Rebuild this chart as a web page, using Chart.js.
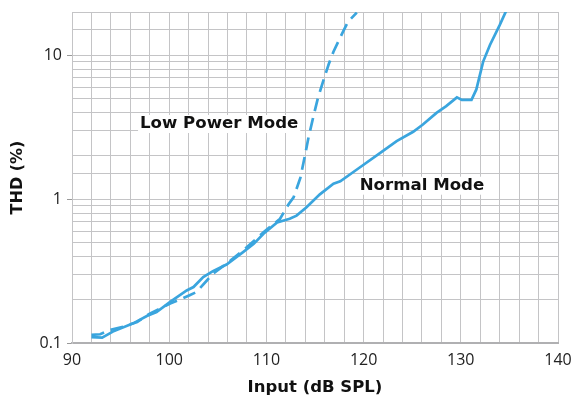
<!DOCTYPE html>
<html>
<head>
<meta charset="utf-8">
<script src="https://cdn.jsdelivr.net/npm/chart.js@4"></script>
<style>
  html, body { margin: 0; padding: 0; background: #fff; }
  #wrap { width: 575px; height: 404px; }
</style>
</head>
<body>
<div id="wrap"><canvas id="thdChart"></canvas></div>
<script>
const normalX = [92.0, 93.1, 94.2, 96.3, 97.7, 98.7, 100.1, 101.8, 102.5, 103.5, 104.5, 105.9, 107.6, 108.7, 109.7, 111.1, 112.4, 113.1, 114.1, 115.5, 116.9, 117.6, 119.6, 121.5, 123.4, 125.1, 126.1, 127.5, 128.5, 129.6, 130.1, 131.1, 131.6, 132.3, 133.0, 134.0, 134.7];
const normalY = [0.110, 0.109, 0.120, 0.137, 0.154, 0.164, 0.193, 0.232, 0.245, 0.287, 0.316, 0.351, 0.428, 0.489, 0.574, 0.689, 0.73, 0.768, 0.876, 1.08, 1.28, 1.33, 1.66, 2.05, 2.53, 2.94, 3.3, 3.98, 4.43, 5.1, 4.9, 4.9, 5.79, 9.04, 11.8, 16.2, 20.6];

const lowPowerX = [92.0, 92.9, 93.9, 95.3, 96.7, 98.0, 100.1, 101.1, 102.1, 102.8, 103.9, 104.5, 106.3, 108.0, 109.7, 111.4, 112.3, 112.8, 113.5, 114.0, 114.3, 114.8, 115.3, 115.9, 116.4, 116.9, 117.8, 118.4, 119.3];
const lowPowerY = [0.114, 0.115, 0.123, 0.130, 0.140, 0.160, 0.188, 0.200, 0.215, 0.226, 0.273, 0.303, 0.374, 0.464, 0.588, 0.730, 0.925, 1.03, 1.41, 2.06, 2.62, 3.67, 5.05, 6.8, 8.63, 10.6, 14.2, 17.1, 19.8];

const xTickLabels = [90, 100, 110, 120, 130, 140];
const yTickLabels = [0.1, 1, 10];

// text labels pinned to data positions (x, y in chart units)
const seriesLabels = [
  { text: 'Low Power Mode', x: 97.0, y: 3.33 },
  { text: 'Normal Mode', x: 119.6, y: 1.24 }
];

const lineBlue = '#3aa5de';
const gridGrey = '#c4c4c6';
const tickFont = '"Open Sans", Lato, sans-serif';
const boldFont = '"DejaVu Sans", sans-serif';

const toPoints = (xs, ys) => xs.map((x, i) => ({ x, y: ys[i] }));

const labelPlugin = {
  id: 'seriesLabels',
  beforeDatasetsDraw(chart) {
    const { ctx, scales } = chart;
    ctx.save();
    ctx.font = 'bold 16.6px ' + boldFont;
    ctx.textBaseline = 'middle';
    ctx.textAlign = 'left';
    seriesLabels.forEach(l => {
      const px = scales.x.getPixelForValue(l.x);
      const py = scales.y.getPixelForValue(l.y);
      const w = ctx.measureText(l.text).width;
      ctx.fillStyle = '#fff';
      ctx.fillRect(px - 2, py - 9, w + 4, 18);
      ctx.fillStyle = '#111';
      ctx.fillText(l.text, px, py);
    });
    ctx.restore();
  }
};

new Chart(document.getElementById('thdChart').getContext('2d'), {
  type: 'line',
  data: {
    datasets: [
      {
        label: 'Normal Mode',
        data: toPoints(normalX, normalY),
        borderColor: lineBlue,
        borderWidth: 2.7,
        pointRadius: 0,
        tension: 0
      },
      {
        label: 'Low Power Mode',
        data: toPoints(lowPowerX, lowPowerY),
        borderColor: lineBlue,
        borderWidth: 2.7,
        borderDash: [13, 7],
        pointRadius: 0,
        tension: 0
      }
    ]
  },
  options: {
    responsive: true,
    maintainAspectRatio: false,
    animation: false,
    layout: { padding: { top: 12, right: 17, left: 0, bottom: 0 } },
    plugins: {
      legend: { display: false },
      tooltip: { enabled: false }
    },
    scales: {
      x: {
        type: 'linear',
        min: 90,
        max: 140,
        afterFit: s => { s.height = 61; s.paddingLeft = 0; s.paddingRight = 0; },
        border: { color: '#b0b0b2', width: 2 },
        grid: { color: gridGrey, lineWidth: 1, drawTicks: false },
        ticks: {
          stepSize: 2,
          autoSkip: false,
          maxRotation: 0,
          padding: 8,
          color: '#222',
          font: { family: tickFont, size: 16 },
          callback: v => xTickLabels.includes(v) ? String(v) : ''
        },
        title: {
          display: true,
          text: 'Input (dB SPL)',
          color: '#111',
          font: { family: boldFont, size: 16.5, weight: 'bold' },
          padding: { top: 0, bottom: 6 }
        }
      },
      y: {
        type: 'logarithmic',
        min: 0.1,
        max: 20,
        afterFit: s => { s.width = 72; s.paddingTop = 0; s.paddingBottom = 0; },
        border: { color: gridGrey, width: 1 },
        grid: {
          color: gridGrey,
          lineWidth: 1,
          tickLength: 5,
          tickColor: c => yTickLabels.includes(c.tick && c.tick.value) ? '#999' : 'rgba(0,0,0,0)'
        },
        ticks: {
          autoSkip: false,
          padding: 5,
          color: '#222',
          font: { family: tickFont, size: 16 },
          callback: v => yTickLabels.includes(v) ? String(v) : ''
        },
        title: {
          display: true,
          text: 'THD (%)',
          color: '#111',
          font: { family: boldFont, size: 16, weight: 'bold' },
          padding: { top: 8, bottom: 0 }
        }
      }
    }
  },
  plugins: [labelPlugin]
});
</script>
</body>
</html>
